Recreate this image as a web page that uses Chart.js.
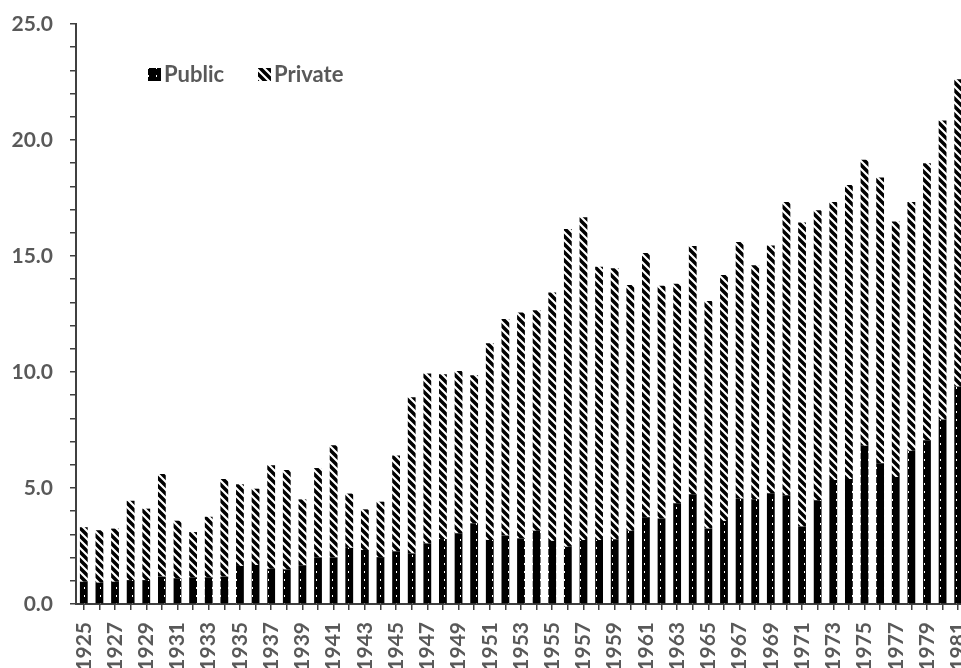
<!DOCTYPE html>
<html>
<head>
<meta charset="utf-8">
<script src="https://cdn.jsdelivr.net/npm/chart.js@4.4.1/dist/chart.umd.min.js"></script>
<style>
  html, body { margin: 0; padding: 0; overflow: hidden; background: #fff; }
</style>
</head>
<body>
<canvas id="myChart" width="966" height="690"></canvas>
<script>
const years = [
  '1925','1926','1927','1928','1929','1930','1931','1932','1933','1934',
  '1935','1936','1937','1938','1939','1940','1941','1942','1943','1944',
  '1945','1946','1947','1948','1949','1950','1951','1952','1953','1954',
  '1955','1956','1957','1958','1959','1960','1961','1962','1963','1964',
  '1965','1966','1967','1968','1969','1970','1971','1972','1973','1974',
  '1975','1976','1977','1978','1979','1980','1981'
];

const publicSpend = [
  0.96, 0.92, 0.96, 1.03, 1.03, 1.18, 1.11, 1.15, 1.15, 1.18,
  1.64, 1.68, 1.52, 1.49, 1.67, 2.01, 2.01, 2.42, 2.33, 2.02,
  2.27, 2.18, 2.61, 2.80, 3.05, 3.48, 2.76, 2.95, 2.83, 3.16,
  2.72, 2.47, 2.76, 2.76, 2.79, 3.16, 3.74, 3.68, 4.34, 4.73,
  3.25, 3.58, 4.55, 4.52, 4.77, 4.69, 3.34, 4.47, 5.35, 5.39,
  6.82, 6.07, 5.47, 6.61, 7.06, 7.95, 9.37
];

const privateSpend = [
  2.35, 2.26, 2.29, 3.42, 3.08, 4.42, 2.48, 1.95, 2.61, 4.21,
  3.52, 3.29, 4.46, 4.29, 2.84, 3.85, 4.83, 2.34, 1.75, 2.39,
  4.13, 6.73, 7.33, 7.10, 6.99, 6.38, 8.48, 9.33, 9.74, 9.50,
  10.71, 13.69, 13.91, 11.78, 11.68, 10.59, 11.39, 10.04, 9.46, 10.70,
  9.81, 10.60, 11.05, 10.08, 10.68, 12.64, 13.10, 12.50, 11.98, 12.67,
  12.33, 12.31, 11.02, 10.72, 11.94, 12.89, 13.25
];

const yLabelEvery = 5;

const textColor = '#595959';
const axisColor = '#404040';
const font = { family: 'Lato', size: 21, weight: 'bold' };

// fill patterns: black with white dots, and black/white diagonal hatch
function dotPattern() {
  const c = document.createElement('canvas');
  c.width = 8; c.height = 8;
  const g = c.getContext('2d');
  g.fillStyle = '#000';
  g.fillRect(0, 0, 8, 8);
  g.fillStyle = '#fff';
  g.fillRect(4, 3, 1, 2);
  return g.createPattern(c, 'repeat');
}

function hatchPattern() {
  const c = document.createElement('canvas');
  c.width = 8; c.height = 8;
  const g = c.getContext('2d');
  g.fillStyle = '#fff';
  g.fillRect(0, 0, 8, 8);
  g.strokeStyle = '#000';
  g.lineWidth = 3.5;
  g.beginPath();
  g.moveTo(-2, -2); g.lineTo(10, 10);
  g.moveTo(-6, 2); g.lineTo(6, 14);
  g.moveTo(2, -6); g.lineTo(14, 6);
  g.stroke();
  return g.createPattern(c, 'repeat');
}

const publicFill = dotPattern();
const privateFill = hatchPattern();

const legendBoxes = {
  id: 'legendBoxes',
  afterDraw(chart) {
    const ctx = chart.ctx;
    const items = [
      { text: 'Public', fill: publicFill, x: 148 },
      { text: 'Private', fill: privateFill, x: 258 }
    ];
    ctx.save();
    ctx.font = 'bold 22px Lato';
    ctx.textBaseline = 'middle';
    items.forEach(it => {
      ctx.fillStyle = it.fill;
      ctx.fillRect(it.x, 68, 13, 13);
      ctx.fillStyle = textColor;
      ctx.fillText(it.text, it.x + 16, 75);
    });
    ctx.restore();
  }
};

const data = {
  labels: years,
  datasets: [{
    label: 'Public',
    data: publicSpend,
    backgroundColor: publicFill,
    borderWidth: 0
  }, {
    label: 'Private',
    data: privateSpend,
    backgroundColor: privateFill,
    borderWidth: 0
  }]
};

const config = {
  type: 'bar',
  data: data,
  options: {
    responsive: false,
    animation: false,
    categoryPercentage: 1,
    barPercentage: 0.5,
    layout: { padding: { top: 24, left: 0, right: 0, bottom: 0 } },
    plugins: {
      legend: { display: false },
      tooltip: { enabled: false }
    },
    scales: {
      x: {
        stacked: true,
        grid: { offset: false, drawOnChartArea: false, drawTicks: true, tickLength: 6, color: axisColor, lineWidth: 1.5 },
        border: { display: true, color: axisColor, width: 2 },
        ticks: {
          autoSkip: false,
          maxRotation: 90,
          minRotation: 90,
          padding: 12,
          color: textColor,
          font: font,
          callback: (v, i) => (i % 2 === 0 ? years[i] : '')
        },
        afterFit: s => { s.height = 86; s.paddingLeft = 0; s.paddingRight = 0; }
      },
      y: {
        stacked: true,
        min: 0,
        max: 25,
        grid: { drawOnChartArea: false, drawTicks: true, tickLength: 6, color: axisColor, lineWidth: 1.5 },
        border: { display: true, color: axisColor, width: 2 },
        ticks: {
          stepSize: 1,
          autoSkip: false,
          padding: 17,
          color: textColor,
          font: font,
          callback: v => (v % yLabelEvery === 0 ? v.toFixed(1) : '')
        },
        afterFit: s => { s.width = 76; s.paddingTop = 0; s.paddingBottom = 0; }
      }
    }
  },
  plugins: [legendBoxes]
};

const ctx = document.getElementById('myChart');
const myChart = new Chart(ctx, config);
</script>
</body>
</html>
